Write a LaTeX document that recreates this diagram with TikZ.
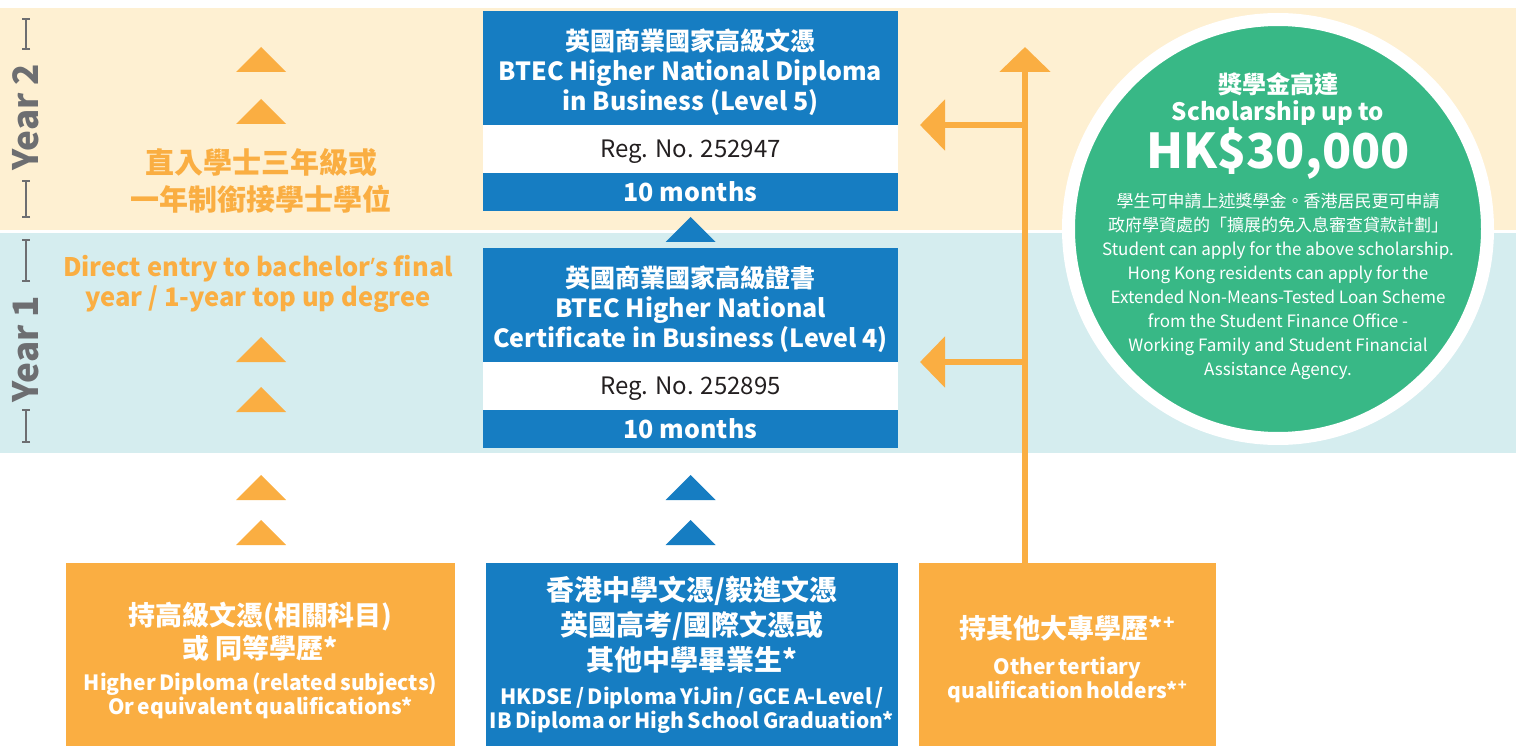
\documentclass[tikz,border=0pt]{standalone}
\usepackage{fontspec}
\setmainfont{Noto Sans CJK TC}
\newfontfamily\latinfont{Noto Sans}
\usepackage{tikz}
\usetikzlibrary{positioning}
\usetikzlibrary{arrows.meta}
\definecolor{hnblue}{RGB}{22,125,194}
\definecolor{hnorange}{RGB}{250,174,66}
\definecolor{hncream}{RGB}{254,240,210}
\definecolor{hncyan}{RGB}{213,237,239}
\definecolor{hngreen}{RGB}{56,184,134}
\definecolor{hngrey}{RGB}{109,110,113}
\definecolor{hnink}{RGB}{35,31,32}
\newcommand{\fsz}[2]{\fontsize{#1}{#2}\selectfont}
\newcommand{\toppad}[1][31pt]{\rule{0pt}{#1}}
\tikzstyle{stage box}=[inner sep=0pt, outer sep=0pt, minimum width=415pt, align=center]
\tikzstyle{title box}=[stage box, fill=hnblue, text=white, minimum height=114pt, font=\bfseries\fsz{25}{30}]
\tikzstyle{reg box}=[stage box, fill=white, text=hnink, minimum height=48pt, text depth=0pt, font=\fsz{24}{28}]
\tikzstyle{time box}=[stage box, fill=hnblue, text=white, minimum height=38pt, text depth=0pt, font=\bfseries\fsz{25}{28}]
\tikzstyle{entry box}=[inner sep=0pt, outer sep=0pt, minimum height=183pt, text=white, align=center, font=\bfseries]
\tikzstyle{year label}=[rotate=90, text=hngrey, font=\bfseries\fsz{35}{40}]
\tikzstyle{year bar}=[hngrey, line width=1.8pt, {Bar[width=8pt]}-{Bar[width=8pt]}]
\tikzstyle{feed edge}=[hnorange, line width=6pt, -{Triangle[width=50pt,length=25pt]}]
\tikzstyle{top up}=[text=hnorange, align=center]
\tikzstyle{award disc}=[circle, fill=hngreen, draw=white, line width=13pt, minimum size=419pt]
\tikzstyle{award text}=[text=white, align=center]
\newcommand{\stagenode}[3][]{
  \node [anchor=center, #1] (#2) {#3}
}
\newcommand{\stepmark}[2][hnorange]{
  \fill[#1] (#2) +(-25,0) -- +(25,0) -- +(0,-25) -- cycle
}

\begin{document}
\begin{tikzpicture}[x=1pt,y=-1pt]
  \useasboundingbox (0,0) rectangle (1516,746);
  \fill[hncream] (0,8) rectangle (1516,230);
  \fill[hncyan] (0,233) rectangle (1516,453);

  % year markers
  \stagenode[year label, at={(26,117)}]{yr2}{Year 2};
  \stagenode[year label, at={(26,349)}]{yr1}{Year 1};
  \draw[year bar] (26,18) -- (26,50);
  \draw[year bar] (26,180) -- (26,218);
  \draw[year bar] (26,239) -- (26,282);
  \draw[year bar] (26,409) -- (26,443);

  % BTEC column
  \stagenode[title box, at={(690.5,68)}]{hnd}{\toppad{}英國商業國家高級文憑\\BTEC Higher National Diploma\\in Business (Level 5)};
  \stagenode[reg box, below=0pt of hnd]{hndreg}{Reg. No. 252947};
  \stagenode[time box, below=0pt of hndreg]{hndtime}{10 months};
  \stagenode[title box, at={(690.5,305)}]{hnc}{\toppad{}英國商業國家高級證書\\BTEC Higher National\\Certificate in Business (Level 4)};
  \stagenode[reg box, below=0pt of hnc]{hncreg}{Reg. No. 252895};
  \stagenode[time box, below=0pt of hncreg]{hnctime}{10 months};

  \foreach \y in {72,124,362,412,500,545} {\stepmark{261,\y};}
  \foreach \y in {242,500,545} {\stepmark[hnblue]{690.5,\y};}

  \stagenode[top up, font=\bfseries\fsz{29}{37}, at={(261,181)}]{topupzh}{直入學士三年級或\\一年制銜接學士學位};
  \stagenode[top up, font=\bfseries\fsz{25.5}{30}, at={(258,284)}]{topupen}{Direct entry to bachelor{\latinfont\bfseries ’}s final\\year / 1-year top up degree};

  % entry boxes
  \stagenode[entry box, fill=hnorange, minimum width=389pt, text width=389pt, at={(260.5,654.5)}]{hdip}{{\fsz{27}{33}\toppad[36pt]{}持高級文憑(相關科目)\\或\hspace{6pt}同等學歷*\par}\vspace{8pt}{\fsz{21}{24}Higher Diploma (related subjects)\\Or equivalent qualifications*\par}};
  \stagenode[entry box, fill=hnblue, minimum width=412pt, text width=412pt, at={(692,654.5)}]{school}{{\fsz{28}{35}香港中學文憑/毅進文憑\\英國高考/國際文憑或\\其他中學畢業生*\par}\vspace{10pt}{\fsz{21}{24}HKDSE / Diploma YiJin / GCE A-Level /\\IB Diploma or High School Graduation*\par}};
  \stagenode[entry box, fill=hnorange, minimum width=297pt, text width=297pt, at={(1067.5,654.5)}]{other}{{\fsz{27}{30}\toppad[32pt]{}持其他大專學歷*\textsuperscript{+}\par}\vspace{12pt}{\fsz{21}{24}Other tertiary\\qualification holders*\textsuperscript{+}\par}};

  \coordinate (foot) at (1025,563);
  \coordinate (peak) at (1025,47);
  \draw[feed edge] (foot) -- (peak);
  \draw[feed edge] (foot |- hnd.south) -- ([xshift=22pt]hnd.south east);
  \draw[feed edge] (foot |- hnc.south) -- ([xshift=22pt]hnc.south east);

  % scholarship
  \stagenode[award disc, at={(1278,229)}]{award}{};
  \stagenode[award text, font=\bfseries\fsz{24}{27}, at={(1278,99)}]{awardhead}{獎學金高達\\Scholarship up to};
  \stagenode[award text, font=\bfseries\fsz{48}{60}, anchor=base, at={(1278,169)}]{awardsum}{HK\$30,000};
  \stagenode[award text, font=\fsz{17}{24}, at={(1278,286)}]{awardbody}{學生可申請上述獎學金。香港居民更可申請\\政府學資處的「擴展的免入息審查貸款計劃」\\Student can apply for the above scholarship.\\Hong Kong residents can apply for the\\Extended Non-Means-Tested Loan Scheme\\from the Student Finance Office -\\Working Family and Student Financial\\Assistance Agency.};
\end{tikzpicture}
\end{document}
